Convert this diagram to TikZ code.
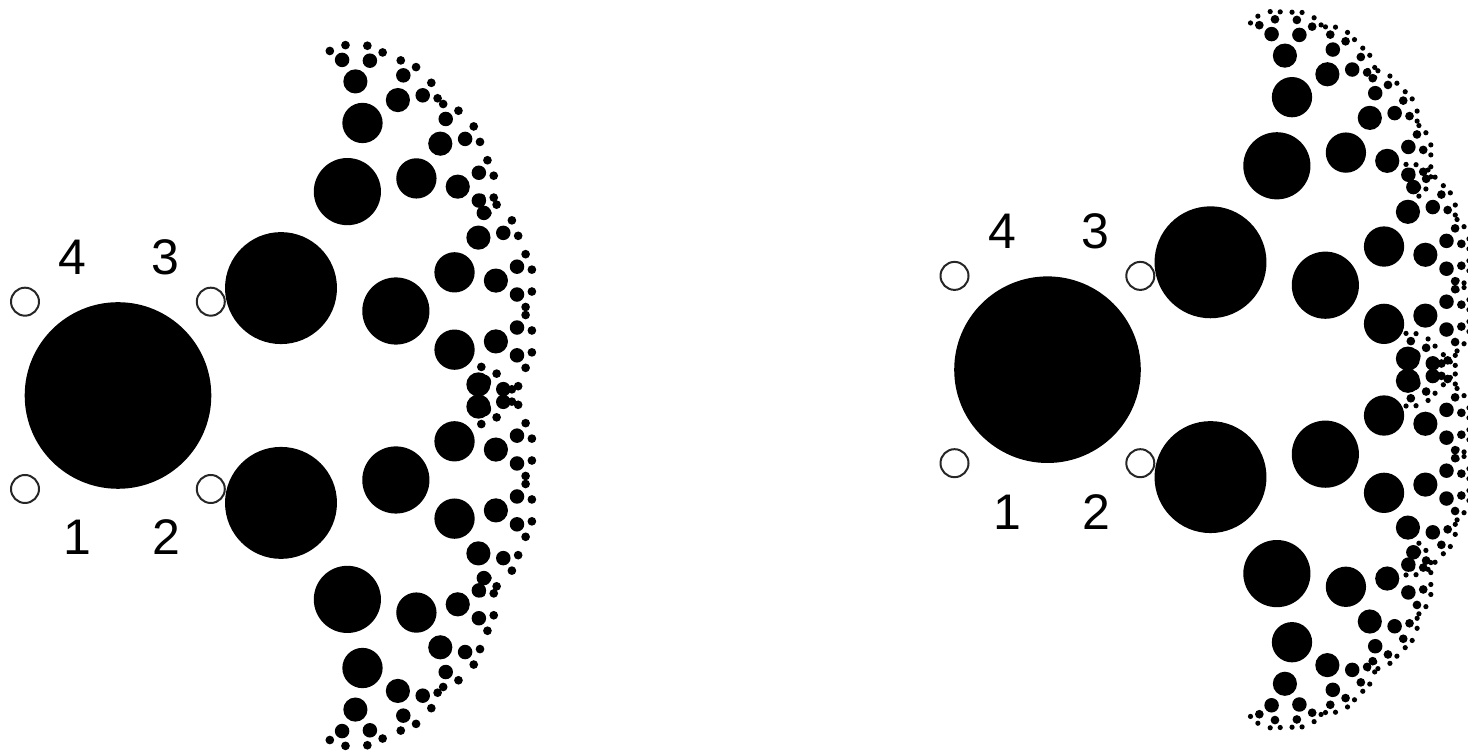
\documentclass[tikz,border=0pt]{standalone}
\usepackage{fontspec}
\setmainfont{Liberation Sans}
\usepackage{tikz}

% similarity z -> a z + b of the upper branch, the lower one is its mirror
\newcommand\rzero{93.3}
\newcommand\gax{0.55592}
\newcommand\gay{0.22573}
\newcommand\gbx{163}
\newcommand\gby{107.4}

% #1 depth, (#2,#3) linear part, (#4,#5) offset of the current word
\newcommand\pearltree[5]{%
  \pgfmathsetmacro\pearlr{\rzero*veclen(#2,#3)}%
  \fill[pearl] (#4,#5) circle[radius=\pearlr];%
  \ifnum#1>0
    \pgfmathsetmacro\uax{(#2)*\gax-(#3)*\gay}%
    \pgfmathsetmacro\uay{(#2)*\gay+(#3)*\gax}%
    \pgfmathsetmacro\ubx{(#4)+(#2)*\gbx-(#3)*\gby}%
    \pgfmathsetmacro\uby{(#5)+(#2)*\gby+(#3)*\gbx}%
    \pgfmathsetmacro\dax{(#2)*\gax+(#3)*\gay}%
    \pgfmathsetmacro\day{(#3)*\gax-(#2)*\gay}%
    \pgfmathsetmacro\dbx{(#4)+(#2)*\gbx+(#3)*\gby}%
    \pgfmathsetmacro\dby{(#5)+(#3)*\gbx-(#2)*\gby}%
    \edef\pearlnext{%
      \noexpand\pearltree{\the\numexpr#1-1\relax}{\uax}{\uay}{\ubx}{\uby}%
      \noexpand\pearltree{\the\numexpr#1-1\relax}{\dax}{\day}{\dbx}{\dby}}%
    \pearlnext
  \fi}

\begin{document}
\begin{tikzpicture}[
    x=0.5pt, y=0.5pt,
    pearl/.style={fill=black},
    port/.style={
        circle,
        draw=black!85,
        line width=1pt,
        minimum size=14pt,
        inner sep=0pt
    },
    digit/.style={font=\fontsize{25}{30}\selectfont, anchor=base, inner sep=0pt}
]

\useasboundingbox (0,0) rectangle (1468,754);
\clip (0,0) rectangle (1468,754);

% left picture
\coordinate (lc) at (118,358.5);
\begin{scope}[shift={(lc)}]
  \pearltree{6}{1}{0}{0}{0}

  \node[port] (lport4) at (-93,93.8) {};
  \node[port] (lport3) at (92.8,93.8) {};
  \node[port] (lport1) at (-93,-93.5) {};
  \node[port] (lport2) at (92.8,-93.5) {};

  \node[digit] (llab4) at (-45.2,121) {4};
  \node[digit] (llab3) at (47.8,121) {3};
  \node[digit] (llab1) at (-40.5,-159.5) {1};
  \node[digit] (llab2) at (48.7,-159.5) {2};
\end{scope}

% right picture
\coordinate (rc) at (1047.5,384.3);
\begin{scope}[shift={(rc)}]
  \pearltree{7}{1}{0}{0}{0}

  \node[port] (rport4) at (-93,93.8) {};
  \node[port] (rport3) at (92.8,93.8) {};
  \node[port] (rport1) at (-93,-93.5) {};
  \node[port] (rport2) at (92.8,-93.5) {};

  \node[digit] (rlab4) at (-45.2,121) {4};
  \node[digit] (rlab3) at (47.8,121) {3};
  \node[digit] (rlab1) at (-40.5,-159.5) {1};
  \node[digit] (rlab2) at (48.7,-159.5) {2};
\end{scope}

\end{tikzpicture}
\end{document}
